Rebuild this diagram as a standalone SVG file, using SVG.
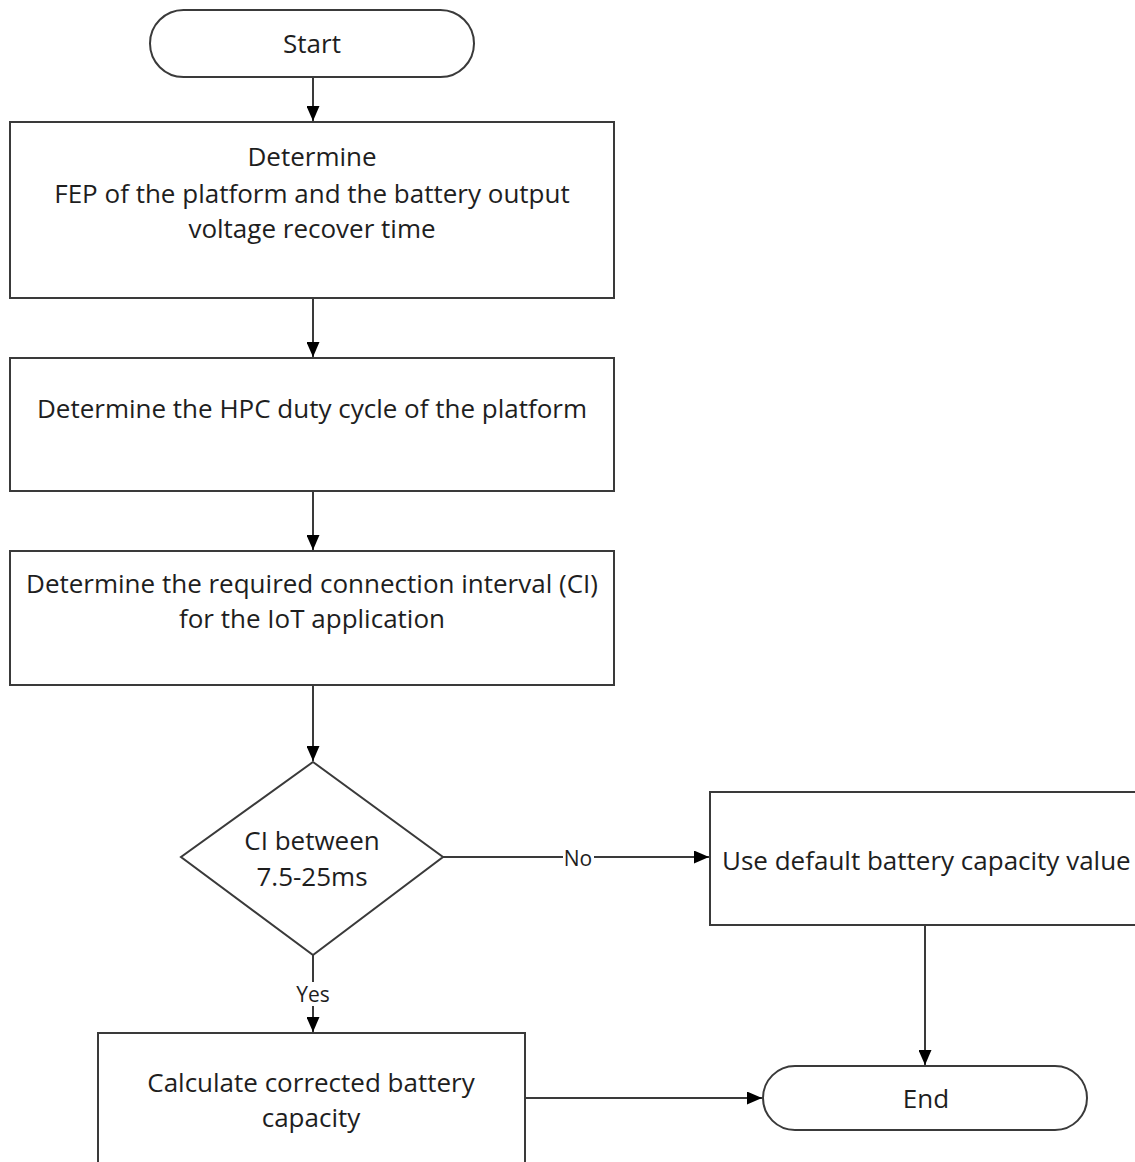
<svg xmlns="http://www.w3.org/2000/svg" width="1135" height="1162" viewBox="0 0 1135 1162">
<style>
.s{fill:#fff;stroke:#3a3a3a;stroke-width:2}
.t{font-family:"Open Sans","Liberation Sans",sans-serif;font-size:26px;fill:#1e1e1e;text-anchor:middle;dominant-baseline:central}
.c{fill:none;stroke:#3a3a3a;stroke-width:2}
.l{font-family:"Open Sans","Liberation Sans",sans-serif;font-size:21px;fill:#1e1e1e;text-anchor:middle;dominant-baseline:central}
</style>
<defs>
<marker id="a" viewBox="0 0 10 10" refX="10" refY="5" markerWidth="15" markerHeight="13" markerUnits="userSpaceOnUse" orient="auto" preserveAspectRatio="none">
<path d="M0,0 L10,5 L0,10 z" fill="#000"/>
</marker>
</defs>
<rect width="1135" height="1162" fill="#fff"/>
<g id="connectors">
<line class="c" x1="313" y1="77" x2="313" y2="121" marker-end="url(#a)"/>
<line class="c" x1="313" y1="298" x2="313" y2="357" marker-end="url(#a)"/>
<line class="c" x1="313" y1="491" x2="313" y2="550" marker-end="url(#a)"/>
<line class="c" x1="313" y1="685" x2="313" y2="761" marker-end="url(#a)"/>
<line class="c" x1="443" y1="857" x2="709" y2="857" marker-end="url(#a)"/>
<rect x="563" y="846" width="31" height="22" fill="#fff"/>
<text class="l" x="578" y="858">No</text>
<line class="c" x1="313" y1="955" x2="313" y2="1032" marker-end="url(#a)"/>
<rect x="293" y="982" width="40" height="24" fill="#fff"/>
<text class="l" x="313" y="994">Yes</text>
<line class="c" x1="925" y1="925" x2="925" y2="1065" marker-end="url(#a)"/>
<line class="c" x1="525" y1="1098" x2="762" y2="1098" marker-end="url(#a)"/>
</g>
<g id="start">
<rect class="s" x="150" y="10" width="324" height="67" rx="33.5"/>
<text class="t" x="312" y="43">Start</text>
</g>
<g id="step1">
<rect class="s" x="10" y="122" width="604" height="176"/>
<text class="t" x="312" y="156">Determine</text>
<text class="t" x="312" y="193">FEP of the platform and the battery output</text>
<text class="t" x="312" y="228">voltage recover time</text>
</g>
<g id="step2">
<rect class="s" x="10" y="358" width="604" height="133"/>
<text class="t" x="312" y="408">Determine the HPC duty cycle of the platform</text>
</g>
<g id="step3">
<rect class="s" x="10" y="551" width="604" height="134"/>
<text class="t" x="312" y="583">Determine the required connection interval (CI)</text>
<text class="t" x="312" y="618">for the IoT application</text>
</g>
<g id="decision">
<polygon class="s" points="313,762 443,857 313,955 181,857"/>
<text class="t" x="312" y="840">CI between</text>
<text class="t" x="312" y="876">7.5-25ms</text>
</g>
<g id="default">
<rect class="s" x="710" y="792" width="440" height="133"/>
<text class="t" x="722" y="860" style="text-anchor:start">Use default battery capacity value</text>
</g>
<g id="calc">
<rect class="s" x="98" y="1033" width="427" height="140"/>
<text class="t" x="311" y="1082">Calculate corrected battery</text>
<text class="t" x="311" y="1117">capacity</text>
</g>
<g id="end">
<rect class="s" x="763" y="1066" width="324" height="64" rx="32"/>
<text class="t" x="926" y="1098">End</text>
</g>
</svg>
